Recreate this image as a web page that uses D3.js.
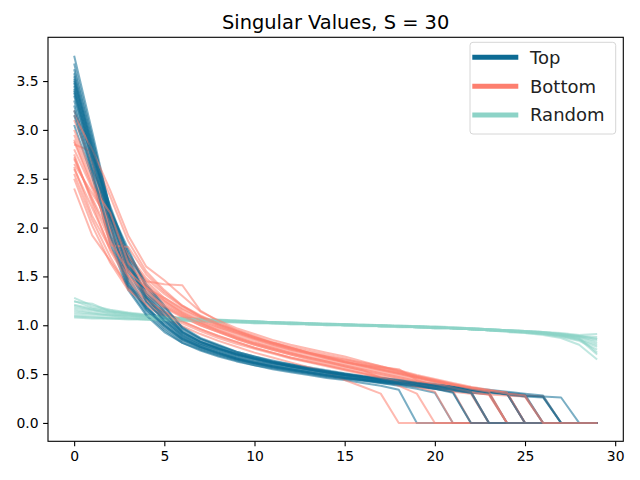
<!DOCTYPE html>
<meta charset="utf-8">
<style>

body {
    margin: 0;
}

text {
    font-family: 'DejaVu Sans', sans-serif;
    fill: #000;
}

.axis text {
    font-size: 13.9px;
}

.axis line {
    stroke: #000;
    stroke-width: 1.1px;
}

.title {
    font-size: 19.4px;
}

.legend text {
    font-size: 18px;
    fill: #222;
}

</style>
<svg id="svdChart" width="640" height="480"></svg>
<script src="https://d3js.org/d3.v7.min.js"></script>

<script>

    // singular value index on the x axis
    var singularIndex = d3.range(30);

    var xTickValues = [0, 5, 10, 15, 20, 25, 30];
    var yTickValues = [0, 0.5, 1, 1.5, 2, 2.5, 3, 3.5];

    var seriesNames = ["Top", "Bottom", "Random"];

    var topRuns = [
        [3.76, 2.98, 2.18, 1.78, 1.38, 1.15, 0.96, 0.86, 0.79, 0.73, 0.68, 0.64, 0.60, 0.57, 0.54, 0.51, 0.48, 0.46, 0.44, 0.42, 0.40, 0.38, 0.36, 0.34, 0.32, 0.30, 0.28, 0, 0, 0],
        [3.55, 2.82, 2.14, 1.62, 1.28, 1.05, 0.90, 0.81, 0.75, 0.69, 0.65, 0.61, 0.58, 0.55, 0.52, 0.49, 0.47, 0.45, 0.43, 0.41, 0.39, 0.37, 0.35, 0.32, 0.30, 0, 0, 0, 0, 0],
        [3.40, 2.72, 2.06, 1.50, 1.20, 1.00, 0.86, 0.78, 0.72, 0.66, 0.62, 0.58, 0.55, 0.52, 0.49, 0.47, 0.45, 0.43, 0.41, 0.39, 0.37, 0.35, 0.32, 0, 0, 0, 0, 0, 0, 0],
        [3.62, 2.90, 2.20, 1.70, 1.32, 1.10, 0.93, 0.83, 0.77, 0.71, 0.66, 0.62, 0.59, 0.56, 0.53, 0.50, 0.47, 0.45, 0.43, 0.41, 0.39, 0.37, 0.35, 0.33, 0.31, 0.29, 0, 0, 0, 0],
        [3.30, 2.64, 1.98, 1.42, 1.15, 0.97, 0.84, 0.76, 0.70, 0.65, 0.61, 0.57, 0.54, 0.51, 0.48, 0.46, 0.44, 0.42, 0.40, 0.37, 0.35, 0.32, 0, 0, 0, 0, 0, 0, 0, 0],
        [3.50, 2.80, 2.12, 1.58, 1.28, 1.08, 0.91, 0.82, 0.76, 0.70, 0.65, 0.61, 0.58, 0.55, 0.52, 0.49, 0.47, 0.45, 0.43, 0.41, 0.38, 0.36, 0.34, 0.31, 0, 0, 0, 0, 0, 0],
        [3.20, 2.58, 1.90, 1.38, 1.12, 0.95, 0.82, 0.74, 0.68, 0.63, 0.59, 0.55, 0.52, 0.49, 0.46, 0.44, 0.41, 0.38, 0.34, 0, 0, 0, 0, 0, 0, 0, 0, 0, 0, 0],
        [3.45, 2.74, 2.22, 1.72, 1.40, 1.18, 0.98, 0.87, 0.80, 0.73, 0.68, 0.63, 0.59, 0.56, 0.53, 0.50, 0.47, 0.45, 0.43, 0.41, 0.38, 0.36, 0.34, 0.32, 0.30, 0.28, 0.27, 0.26, 0, 0],
        [3.35, 2.70, 2.02, 1.46, 1.18, 1.02, 0.87, 0.78, 0.72, 0.66, 0.61, 0.58, 0.55, 0.52, 0.49, 0.46, 0.44, 0.41, 0.38, 0.35, 0.31, 0, 0, 0, 0, 0, 0, 0, 0, 0],
        [3.58, 2.86, 2.15, 1.66, 1.30, 1.12, 0.94, 0.84, 0.77, 0.70, 0.66, 0.62, 0.58, 0.55, 0.52, 0.49, 0.47, 0.44, 0.42, 0.40, 0.38, 0.36, 0.34, 0.32, 0.30, 0.28, 0, 0, 0, 0],
        [3.05, 2.52, 1.84, 1.36, 1.10, 0.93, 0.82, 0.75, 0.69, 0.64, 0.59, 0.56, 0.53, 0.50, 0.47, 0.45, 0.43, 0.41, 0.39, 0.37, 0.35, 0.33, 0.31, 0.30, 0, 0, 0, 0, 0, 0],
        [3.48, 2.77, 2.09, 1.55, 1.24, 1.06, 0.89, 0.80, 0.74, 0.68, 0.63, 0.60, 0.57, 0.54, 0.51, 0.48, 0.45, 0.43, 0.41, 0.39, 0.37, 0.35, 0.33, 0.31, 0.29, 0.27, 0.26, 0, 0, 0],
        [3.68, 2.93, 2.17, 1.75, 1.42, 1.20, 0.97, 0.86, 0.79, 0.72, 0.67, 0.63, 0.60, 0.56, 0.53, 0.50, 0.48, 0.46, 0.44, 0.41, 0.39, 0.37, 0.35, 0.33, 0.31, 0, 0, 0, 0, 0],
        [3.38, 2.68, 2.03, 1.44, 1.16, 0.99, 0.85, 0.77, 0.71, 0.65, 0.61, 0.57, 0.54, 0.51, 0.48, 0.46, 0.44, 0.42, 0.40, 0.38, 0.36, 0.34, 0.31, 0, 0, 0, 0, 0, 0, 0],
        [3.25, 2.60, 2.16, 1.65, 1.24, 1.04, 0.88, 0.80, 0.73, 0.67, 0.63, 0.59, 0.56, 0.53, 0.50, 0.47, 0.45, 0.43, 0.41, 0.38, 0.35, 0.31, 0, 0, 0, 0, 0, 0, 0, 0],
        [3.42, 2.76, 2.11, 1.60, 1.34, 1.14, 0.93, 0.83, 0.76, 0.70, 0.66, 0.62, 0.58, 0.55, 0.52, 0.49, 0.46, 0.44, 0.42, 0.40, 0.38, 0.36, 0.34, 0.32, 0.30, 0, 0, 0, 0, 0],
        [3.52, 2.84, 2.13, 1.68, 1.28, 1.09, 0.92, 0.83, 0.76, 0.71, 0.66, 0.62, 0.58, 0.55, 0.52, 0.49, 0.47, 0.45, 0.42, 0.40, 0.38, 0.36, 0.34, 0.32, 0.30, 0.28, 0.27, 0, 0, 0],
        [3.15, 2.56, 1.92, 1.40, 1.18, 1.00, 0.86, 0.78, 0.71, 0.66, 0.61, 0.58, 0.55, 0.52, 0.49, 0.46, 0.44, 0.42, 0.40, 0.38, 0.36, 0.34, 0.32, 0, 0, 0, 0, 0, 0, 0]
    ];

    var bottomRuns = [
        [2.95, 2.50, 2.10, 1.70, 1.45, 1.28, 1.16, 1.07, 0.99, 0.92, 0.86, 0.80, 0.75, 0.71, 0.67, 0.62, 0.58, 0.54, 0.50, 0.46, 0.42, 0.38, 0.35, 0.32, 0.30, 0, 0, 0, 0, 0],
        [2.70, 2.30, 1.92, 1.58, 1.36, 1.22, 1.11, 1.02, 0.94, 0.87, 0.81, 0.76, 0.71, 0.67, 0.63, 0.59, 0.55, 0.51, 0.47, 0.43, 0.39, 0.36, 0.33, 0.31, 0, 0, 0, 0, 0, 0],
        [3.20, 2.75, 2.32, 1.86, 1.55, 1.36, 1.20, 1.09, 1.01, 0.94, 0.87, 0.81, 0.76, 0.71, 0.66, 0.62, 0.58, 0.54, 0.50, 0.46, 0.42, 0.38, 0.35, 0.32, 0.29, 0.27, 0, 0, 0, 0],
        [2.40, 1.92, 1.66, 1.40, 1.25, 1.14, 1.04, 0.96, 0.89, 0.83, 0.77, 0.72, 0.67, 0.63, 0.59, 0.55, 0.51, 0.47, 0.43, 0.39, 0.35, 0.32, 0.30, 0, 0, 0, 0, 0, 0, 0],
        [2.85, 2.78, 2.12, 1.70, 1.45, 1.42, 1.41, 1.15, 1.04, 0.95, 0.88, 0.82, 0.77, 0.72, 0.67, 0.63, 0.59, 0.55, 0.51, 0.47, 0.43, 0.39, 0.36, 0.33, 0.31, 0, 0, 0, 0, 0],
        [2.60, 2.20, 1.80, 1.48, 1.30, 1.18, 1.08, 1.00, 0.93, 0.86, 0.80, 0.75, 0.70, 0.65, 0.61, 0.57, 0.53, 0.49, 0.45, 0.41, 0.37, 0.34, 0.31, 0.29, 0, 0, 0, 0, 0, 0],
        [2.55, 2.08, 1.70, 1.38, 1.20, 1.08, 0.99, 0.91, 0.84, 0.78, 0.72, 0.67, 0.62, 0.57, 0.52, 0.44, 0.37, 0.30, 0, 0, 0, 0, 0, 0, 0, 0, 0, 0, 0, 0],
        [2.80, 2.40, 1.98, 1.62, 1.40, 1.25, 1.13, 1.04, 0.97, 0.90, 0.84, 0.79, 0.74, 0.70, 0.66, 0.62, 0.59, 0.57, 0.55, 0.44, 0.38, 0.34, 0.31, 0.29, 0.28, 0.27, 0, 0, 0, 0],
        [3.10, 2.66, 2.00, 1.56, 1.38, 1.24, 1.12, 1.03, 0.95, 0.88, 0.82, 0.77, 0.72, 0.67, 0.63, 0.58, 0.54, 0.46, 0.38, 0.30, 0, 0, 0, 0, 0, 0, 0, 0, 0, 0],
        [2.65, 2.35, 2.05, 1.72, 1.48, 1.32, 1.19, 1.09, 1.01, 0.94, 0.88, 0.82, 0.77, 0.72, 0.68, 0.63, 0.59, 0.55, 0.51, 0.47, 0.43, 0.39, 0.36, 0.33, 0.30, 0.28, 0.27, 0, 0, 0],
        [2.90, 2.45, 1.90, 1.52, 1.32, 1.19, 1.09, 1.00, 0.93, 0.86, 0.80, 0.75, 0.70, 0.66, 0.62, 0.58, 0.54, 0.50, 0.46, 0.42, 0.38, 0.35, 0.32, 0.29, 0, 0, 0, 0, 0, 0],
        [2.75, 2.25, 1.76, 1.45, 1.26, 1.14, 1.04, 0.96, 0.89, 0.83, 0.77, 0.72, 0.67, 0.63, 0.59, 0.55, 0.51, 0.47, 0.43, 0.40, 0.36, 0.33, 0, 0, 0, 0, 0, 0, 0, 0],
        [3.00, 2.55, 1.82, 1.80, 1.52, 1.34, 1.20, 1.10, 1.02, 0.95, 0.89, 0.83, 0.78, 0.74, 0.70, 0.66, 0.61, 0.57, 0.53, 0.48, 0.44, 0.40, 0.36, 0.33, 0.31, 0, 0, 0, 0, 0],
        [2.50, 2.02, 1.64, 1.36, 1.22, 1.11, 1.02, 0.94, 0.87, 0.81, 0.76, 0.71, 0.66, 0.62, 0.58, 0.54, 0.50, 0.46, 0.42, 0.37, 0.32, 0, 0, 0, 0, 0, 0, 0, 0, 0],
        [3.15, 2.80, 2.38, 1.92, 1.60, 1.46, 1.30, 1.14, 1.05, 0.97, 0.91, 0.85, 0.80, 0.76, 0.72, 0.68, 0.63, 0.58, 0.54, 0.49, 0.45, 0.41, 0.37, 0.34, 0.31, 0, 0, 0, 0, 0],
        [2.62, 2.12, 1.78, 1.50, 1.34, 1.20, 1.10, 1.02, 0.95, 0.88, 0.82, 0.77, 0.72, 0.68, 0.64, 0.60, 0.56, 0.52, 0.48, 0.44, 0.40, 0.36, 0.32, 0, 0, 0, 0, 0, 0, 0],
        [2.88, 2.42, 2.15, 1.64, 1.42, 1.26, 1.14, 1.05, 0.98, 0.92, 0.86, 0.81, 0.76, 0.72, 0.68, 0.64, 0.60, 0.56, 0.52, 0.47, 0.43, 0.39, 0.35, 0.32, 0, 0, 0, 0, 0, 0],
        [2.72, 2.28, 1.86, 1.55, 1.38, 1.28, 1.17, 1.08, 1.00, 0.93, 0.87, 0.82, 0.77, 0.72, 0.68, 0.65, 0.62, 0.58, 0.53, 0.48, 0.44, 0.40, 0.36, 0.33, 0.30, 0.28, 0, 0, 0, 0]
    ];

    var randomRuns = [
        [1.28, 1.20, 1.16, 1.13, 1.11, 1.09, 1.08, 1.07, 1.06, 1.05, 1.04, 1.03, 1.03, 1.02, 1.02, 1.01, 1.01, 1.00, 1.00, 0.99, 0.99, 0.98, 0.97, 0.96, 0.95, 0.94, 0.93, 0.91, 0.89, 0.86],
        [1.18, 1.15, 1.13, 1.11, 1.09, 1.08, 1.07, 1.06, 1.05, 1.04, 1.03, 1.03, 1.02, 1.02, 1.01, 1.01, 1.00, 1.00, 0.99, 0.99, 0.98, 0.97, 0.96, 0.95, 0.94, 0.93, 0.91, 0.89, 0.85, 0.78],
        [1.10, 1.09, 1.08, 1.07, 1.06, 1.05, 1.05, 1.04, 1.04, 1.03, 1.03, 1.02, 1.02, 1.01, 1.01, 1.00, 1.00, 0.99, 0.99, 0.98, 0.98, 0.97, 0.96, 0.95, 0.94, 0.93, 0.92, 0.90, 0.88, 0.84],
        [1.24, 1.22, 1.14, 1.12, 1.10, 1.09, 1.07, 1.06, 1.05, 1.04, 1.04, 1.03, 1.02, 1.02, 1.01, 1.01, 1.00, 1.00, 0.99, 0.99, 0.98, 0.98, 0.97, 0.96, 0.95, 0.93, 0.92, 0.90, 0.87, 0.72],
        [1.14, 1.12, 1.10, 1.09, 1.08, 1.07, 1.06, 1.05, 1.05, 1.04, 1.03, 1.03, 1.02, 1.01, 1.01, 1.00, 1.00, 0.99, 0.99, 0.98, 0.97, 0.97, 0.96, 0.95, 0.94, 0.92, 0.91, 0.89, 0.86, 0.80],
        [1.08, 1.07, 1.07, 1.06, 1.06, 1.05, 1.04, 1.04, 1.03, 1.03, 1.02, 1.02, 1.01, 1.01, 1.00, 1.00, 1.00, 0.99, 0.99, 0.98, 0.98, 0.97, 0.96, 0.96, 0.95, 0.94, 0.93, 0.92, 0.90, 0.91],
        [1.21, 1.17, 1.14, 1.12, 1.10, 1.08, 1.07, 1.06, 1.05, 1.04, 1.04, 1.03, 1.02, 1.02, 1.01, 1.01, 1.00, 1.00, 0.99, 0.99, 0.98, 0.97, 0.96, 0.95, 0.93, 0.92, 0.90, 0.87, 0.80, 0.65],
        [1.12, 1.11, 1.10, 1.08, 1.07, 1.06, 1.06, 1.05, 1.04, 1.04, 1.03, 1.02, 1.02, 1.01, 1.01, 1.00, 1.00, 0.99, 0.99, 0.98, 0.98, 0.97, 0.96, 0.95, 0.94, 0.93, 0.92, 0.91, 0.89, 0.88],
        [1.16, 1.13, 1.11, 1.10, 1.08, 1.07, 1.06, 1.05, 1.05, 1.04, 1.03, 1.02, 1.02, 1.01, 1.01, 1.00, 1.00, 0.99, 0.99, 0.98, 0.97, 0.97, 0.96, 0.95, 0.94, 0.93, 0.91, 0.88, 0.84, 0.75],
        [1.25, 1.18, 1.15, 1.12, 1.10, 1.09, 1.07, 1.06, 1.05, 1.05, 1.04, 1.03, 1.03, 1.02, 1.01, 1.01, 1.00, 1.00, 0.99, 0.99, 0.98, 0.97, 0.97, 0.96, 0.95, 0.94, 0.92, 0.90, 0.88, 0.82],
        [1.20, 1.16, 1.12, 1.10, 1.09, 1.08, 1.07, 1.06, 1.05, 1.04, 1.03, 1.03, 1.02, 1.01, 1.01, 1.00, 1.00, 0.99, 0.98, 0.98, 0.97, 0.97, 0.96, 0.95, 0.94, 0.93, 0.92, 0.90, 0.86, 0.70],
        [1.09, 1.08, 1.07, 1.07, 1.06, 1.05, 1.05, 1.04, 1.03, 1.03, 1.02, 1.02, 1.01, 1.01, 1.00, 1.00, 0.99, 0.99, 0.99, 0.98, 0.98, 0.97, 0.97, 0.96, 0.95, 0.94, 0.93, 0.91, 0.89, 0.86]
    ];

    var seriesColors = ["#0d6b94", "#fd7f6f", "#8dd3c7"];

    var translate = function(left, top) {
        return "translate(" + left + "," + top + ")";
    };

    var svg = d3.select("#svdChart"),
        margins = {top: 37.3, right: 16.7, bottom: 38.7, left: 48},
        plotWidth = +svg.attr("width") - margins.left - margins.right,
        plotHeight = +svg.attr("height") - margins.top - margins.bottom;

    var plot = svg.append("g").attr("transform", translate(margins.left, margins.top));

    // matplotlib style 5% padding on both axes
    var allRuns = [topRuns, bottomRuns, randomRuns];
    var allValues = allRuns.flat(2);
    var xExtent = d3.extent(singularIndex),
        yExtent = d3.extent(allValues);
    var xPad = (xExtent[1] - xExtent[0]) * 0.05,
        yPad = (yExtent[1] - yExtent[0]) * 0.05;

    var x = d3.scaleLinear().domain([xExtent[0] - xPad, xExtent[1] + xPad]).range([0, plotWidth]);
    var y = d3.scaleLinear().domain([yExtent[0] - yPad, yExtent[1] + yPad]).range([plotHeight, 0]);

    var line = d3.line()
        .x(function(d, i) { return x(singularIndex[i]); })
        .y(function(d) { return y(d); });

    // one draw per trial, series interleaved like the loop that produced them
    var runCount = d3.max(allRuns, function(r) { return r.length; });
    for (var k = 0; k < runCount; k++) {
        allRuns.forEach(function(runs, s) {
            if (k >= runs.length) return;
            plot.append("path")
                .attr("d", line(runs[k]))
                .attr("fill", "none")
                .attr("stroke", seriesColors[s])
                .attr("stroke-width", 2)
                .attr("stroke-opacity", 0.55)
                .attr("stroke-linejoin", "round");
        });
    }

    plot.append("g")
        .attr("class", "axis")
        .attr("transform", translate(0, plotHeight))
        .call(d3.axisBottom(x).tickValues(xTickValues).tickSize(4.9).tickPadding(4.5))
        .call(function(g) { g.select(".domain").remove(); });

    plot.append("g")
        .attr("class", "axis")
        .call(d3.axisLeft(y).tickValues(yTickValues).tickFormat(d3.format(".1f")).tickSize(4.9).tickPadding(4.5))
        .call(function(g) { g.select(".domain").remove(); });

    plot.append("rect")
        .attr("width", plotWidth)
        .attr("height", plotHeight)
        .attr("fill", "none")
        .attr("stroke", "#000")
        .attr("stroke-width", 1.1);

    svg.append("text")
        .attr("class", "title")
        .attr("x", margins.left + plotWidth / 2)
        .attr("y", 29)
        .attr("text-anchor", "middle")
        .text("Singular Values, S = " + singularIndex.length);

    var legend = svg.append("g")
        .attr("class", "legend")
        .attr("transform", translate(470, 42.3));

    legend.append("rect")
        .attr("width", 145.7)
        .attr("height", 91.7)
        .attr("rx", 3)
        .attr("fill", "#fff")
        .attr("fill-opacity", 0.8)
        .attr("stroke", "#d6d6d6");

    var legendRowHeight = 28.9;
    seriesNames.forEach(function(name, i) {
        var row = legend.append("g").attr("transform", translate(0, 15 + i * legendRowHeight));
        row.append("line")
            .attr("x1", 2.3).attr("x2", 48.3)
            .attr("stroke", seriesColors[i])
            .attr("stroke-width", 5);
        row.append("text")
            .attr("x", 60)
            .attr("dy", "0.35em")
            .text(name);
    });

</script>
